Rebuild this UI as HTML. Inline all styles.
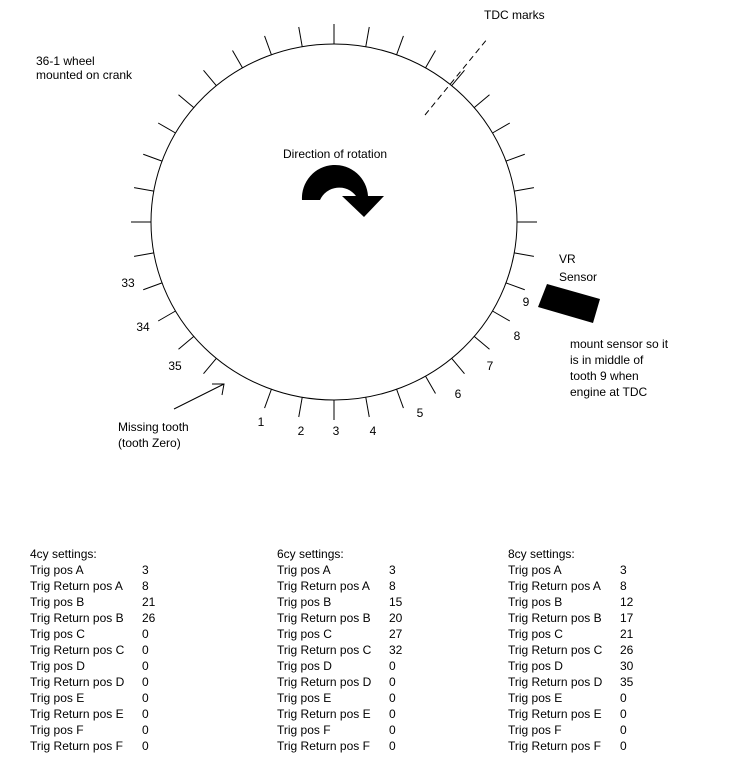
<!DOCTYPE html>
<html><head><style>
html,body{margin:0;padding:0;background:#fff;}
svg{display:block;font-family:"Liberation Sans",Arial,sans-serif;font-size:12px;}
</style></head><body>
<svg id="s" width="741" height="779" viewBox="0 0 741 779" xmlns="http://www.w3.org/2000/svg">
<ellipse cx="334" cy="222" rx="183" ry="178" fill="none" stroke="#000" stroke-width="1"/>
<g id="ticks" stroke="#000" stroke-width="1"></g>
<line x1="425" y1="115" x2="488" y2="38" stroke="#000" stroke-dasharray="6,4"/>
<line x1="174" y1="409" x2="224" y2="384" stroke="#000"/>
<polyline points="212,384 224,384 222,395" fill="none" stroke="#000"/>
<path d="M302,200 A33,33 0 0 1 368,196 L384,196 L364,217 L342,196 L356,196 A21,21 0 0 0 320,200 Z" fill="#000"/>
<polygon points="547,284 600,299 593,323 538,307" fill="#000"/>
<g fill="#000">
<text x="36" y="65">36-1 wheel</text>
<text x="36" y="79">mounted on crank</text>
<text x="484" y="19">TDC marks</text>
<text x="283" y="158">Direction of rotation</text>
<text x="559" y="263">VR</text>
<text x="559" y="281">Sensor</text>
<text x="570" y="348">mount sensor so it</text>
<text x="570" y="364">is in middle of</text>
<text x="570" y="380">tooth 9 when</text>
<text x="570" y="396">engine at TDC</text>
<text x="118" y="431">Missing tooth</text>
<text x="118" y="447">(tooth Zero)</text>
<g text-anchor="middle">
<text x="128" y="287">33</text><text x="143" y="331">34</text><text x="175" y="370">35</text>
<text x="261" y="426">1</text><text x="301" y="435">2</text><text x="336" y="435">3</text>
<text x="373" y="435">4</text><text x="420" y="417">5</text><text x="458" y="398">6</text>
<text x="490" y="370">7</text><text x="517" y="340">8</text><text x="526" y="306">9</text>
</g>
<g id="tables"></g>
</g>
<script>
var g=document.getElementById('ticks'),ns="http://www.w3.org/2000/svg";
for(var n=1;n<=35;n++){var a=(90-(n-3)*10)*Math.PI/180;var c=Math.cos(a),s=Math.sin(a);
var l=document.createElementNS(ns,'line');
l.setAttribute('x1',334+183*c);l.setAttribute('y1',222+178*s);
l.setAttribute('x2',334+203*c);l.setAttribute('y2',222+198*s);g.appendChild(l);}
var labels=["Trig pos A","Trig Return pos A","Trig pos B","Trig Return pos B","Trig pos C","Trig Return pos C","Trig pos D","Trig Return pos D","Trig pos E","Trig Return pos E","Trig pos F","Trig Return pos F"];
var cols=[[30,"4cy settings:",[3,8,21,26,0,0,0,0,0,0,0,0]],[277,"6cy settings:",[3,8,15,20,27,32,0,0,0,0,0,0]],[508,"8cy settings:",[3,8,12,17,21,26,30,35,0,0,0,0]]];
var t=document.getElementById('tables');
function tx(x,y,s){var e=document.createElementNS(ns,'text');e.setAttribute('x',x);e.setAttribute('y',y);e.textContent=s;t.appendChild(e);}
cols.forEach(function(c){tx(c[0],558,c[1]);for(var i=0;i<12;i++){tx(c[0],574+i*16,labels[i]);tx(c[0]+112,574+i*16,String(c[2][i]));}});
</script>
</svg>
</body></html>
